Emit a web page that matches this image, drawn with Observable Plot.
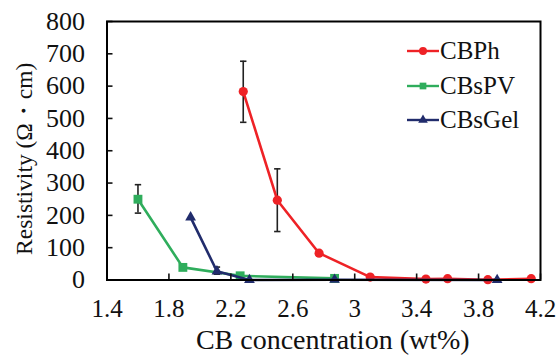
<!DOCTYPE html>
<html>
<head>
<meta charset="utf-8">
<script src="https://cdn.jsdelivr.net/npm/d3@7"></script>
<script src="https://cdn.jsdelivr.net/npm/@observablehq/plot@0.6"></script>
<style>
  html, body { margin: 0; padding: 0; background: #fff; }
  #wrap { position: relative; width: 556px; height: 363px; }
  #legend { position: absolute; left: 406px; top: 34px; font-family: 'Liberation Serif'; font-size: 25px; color: #111; }
  #legend .item { display: flex; align-items: center; height: 34.5px; }
  #legend svg { display: block; margin-right: 1px; }
</style>
</head>
<body>
<div id="wrap"></div>
<script>
// ---- data ----
const seriesNames = ["CBPh", "CBsPV", "CBsGel"];
const seriesColors = ["#ee2226", "#2fad5c", "#212c6c"];
const seriesSymbols = ["circle", "square", "triangle"];

const cbphX = [2.28, 2.5, 2.77, 3.1, 3.46, 3.6, 3.86, 4.14];
const cbphY = [583, 247, 83, 9, 3, 4, 1, 4];
const cbphErrLow = [488, 150, null, null, null, null, null, null];
const cbphErrHigh = [677, 344, null, null, null, null, null, null];

const cbspvX = [1.6, 1.89, 2.26, 2.87];
const cbspvY = [250, 39, 13, 5];
const cbspvErrLow = [207, null, null, null];
const cbspvErrHigh = [295, null, null, null];

const cbsgelX = [1.94, 2.11, 2.32, 2.87, 3.92];
const cbsgelY = [194, 27, 0, 1, 0];
const cbsgelErrLow = [null, 18, null, null, null];
const cbsgelErrHigh = [null, 40, null, null, null];

const xTicks = [1.4, 1.8, 2.2, 2.6, 3.0, 3.4, 3.8, 4.2];
const yTicks = [0, 100, 200, 300, 400, 500, 600, 700, 800];

const xLabel = "CB concentration (wt%)";
const yLabel = "Resistivity (Ω・cm)";

const FONT = "Liberation Serif";

function rows(name, xs, ys, lo, hi) {
  return xs.map((x, i) => ({series: name, x, y: ys[i], lo: lo[i], hi: hi[i]}));
}
const data = [
  ...rows("CBPh", cbphX, cbphY, cbphErrLow, cbphErrHigh),
  ...rows("CBsPV", cbspvX, cbspvY, cbspvErrLow, cbspvErrHigh),
  ...rows("CBsGel", cbsgelX, cbsgelY, cbsgelErrLow, cbsgelErrHigh)
];
const errs = data.filter(d => d.lo != null);
const caps = errs.flatMap(d => [{x: d.x, y: d.lo}, {x: d.x, y: d.hi}]);

const capSymbol = {draw(ctx, size) { const w = 3.2; ctx.moveTo(-w, 0); ctx.lineTo(w, 0); }};
const colorOf = Object.fromEntries(seriesNames.map((n, i) => [n, seriesColors[i]]));
const symOf = Object.fromEntries(seriesNames.map((n, i) => [n, seriesSymbols[i]]));
const rOf = {CBPh: 4.6, CBsPV: 5.0, CBsGel: 4.0};

const marks = [];
marks.push(Plot.ruleX(errs, {x: "x", y1: "lo", y2: "hi", stroke: "#222", strokeWidth: 1.6}));
marks.push(Plot.dot(caps, {x: "x", y: "y", symbol: capSymbol, r: 3, stroke: "#222", strokeWidth: 1.6, fill: "none"}));
for (const name of ["CBPh", "CBsPV", "CBsGel"]) {
  const sub = data.filter(d => d.series === name);
  marks.push(Plot.line(sub, {x: "x", y: "y", stroke: colorOf[name], strokeWidth: 2.6}));
  marks.push(Plot.dot(sub, {x: "x", y: "y", symbol: symOf[name], r: rOf[name], fill: colorOf[name], stroke: "none"}));
}
marks.push(Plot.axisY({ticks: yTicks, tickSize: 0, tickPadding: 22, fontSize: 26, fontFamily: FONT, label: null}));
marks.push(Plot.axisY({ticks: yTicks, tickSize: -6, text: null, label: null, strokeWidth: 1.6}));
marks.push(Plot.axisX({ticks: xTicks, tickSize: 0, tickPadding: 19, fontSize: 25, fontFamily: FONT, label: null, tickFormat: d => String(+d.toFixed(1))}));
marks.push(Plot.axisX({ticks: xTicks, tickSize: -6, text: null, label: null, strokeWidth: 1.6}));
// axis titles
marks.push(Plot.text([yLabel], {text: d => d, frameAnchor: "left", rotate: -90, textAnchor: "middle", lineAnchor: "top", dx: -91.5, dy: 8, fontSize: 23.5, fontFamily: FONT, fill: "#111"}));
marks.push(Plot.text([xLabel], {text: d => d, frameAnchor: "bottom", textAnchor: "middle", lineAnchor: "bottom", dx: 9, dy: 68.5, fontSize: 28, fontFamily: FONT, fill: "#111"}));
marks.push(Plot.frame({stroke: "#000", strokeWidth: 2}));

const chart = Plot.plot({
  width: 556,
  height: 363,
  marginLeft: 106.5,
  marginRight: 16,
  marginTop: 21,
  marginBottom: 83.5,
  x: {domain: [1.4, 4.2]},
  y: {domain: [0, 800]},
  style: {fontFamily: FONT, color: "#111", background: "#fff", overflow: "visible"},
  marks
});
const wrap = document.getElementById("wrap");
wrap.appendChild(chart);

const legend = document.createElement("div");
legend.id = "legend";
seriesNames.forEach((name, i) => {
  const item = document.createElement("div");
  item.className = "item";
  const sw = d3.create("svg").attr("width", 33).attr("height", 14);
  sw.append("line").attr("x1", 1).attr("x2", 33).attr("y1", 7).attr("y2", 7)
    .attr("stroke", seriesColors[i]).attr("stroke-width", 2.4);
  const sym = {circle: d3.symbolCircle, square: d3.symbolSquare, triangle: d3.symbolTriangle}[seriesSymbols[i]];
  const size = {circle: 50, square: 45, triangle: 40}[seriesSymbols[i]];
  sw.append("path").attr("d", d3.symbol(sym, size)()).attr("transform", "translate(17,7)").attr("fill", seriesColors[i]);
  item.appendChild(sw.node());
  const t = document.createElement("span");
  t.textContent = name;
  item.appendChild(t);
  legend.appendChild(item);
});
wrap.appendChild(legend);
</script>
</body>
</html>
